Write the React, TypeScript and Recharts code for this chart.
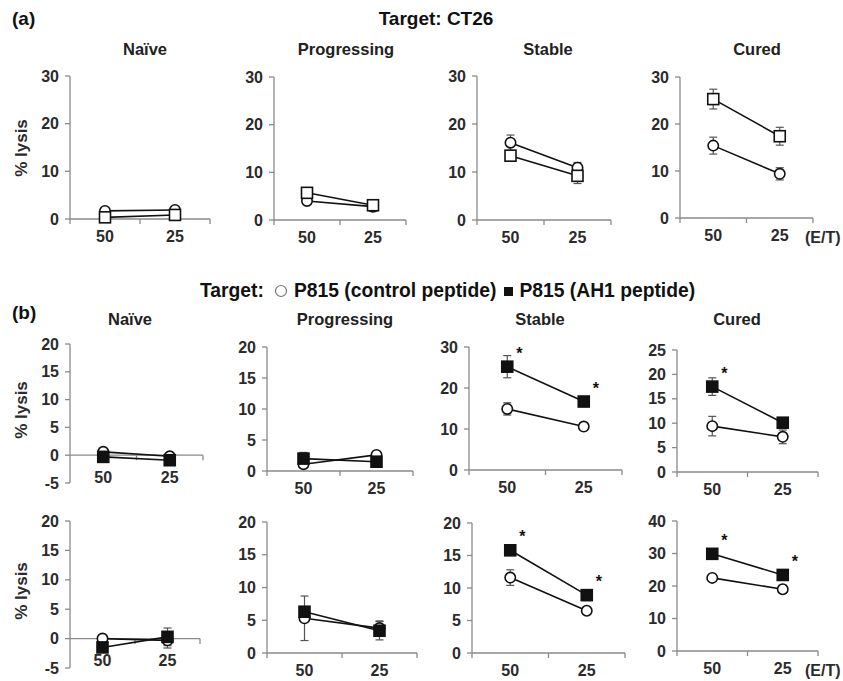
import React from "react";
import {
  ErrorBar,
  LabelList,
  Line,
  LineChart,
  ReferenceDot,
  ReferenceLine,
  XAxis,
  YAxis,
} from "recharts";

const FONT = '"Liberation Sans", Arial, sans-serif';
const INK = "#111";
const AXIS = "#8a8a8a";
const ERR = "#555";
const LABEL = "#2b2b2b";

const ET_RATIOS = ["50", "25"];
const GROUPS = ["Naïve", "Progressing", "Stable", "Cured"];

const TICKS_0_30 = [0, 10, 20, 30];
const TICKS_M5_20 = [-5, 0, 5, 10, 15, 20];
const TICKS_0_20 = [0, 5, 10, 15, 20];
const TICKS_0_25 = [0, 5, 10, 15, 20, 25];
const TICKS_0_40 = [0, 10, 20, 30, 40];

// (a) target CT26, open circles / open squares
const CT26_NAIVE_CIRCLE = [1.7, 1.9];
const CT26_NAIVE_CIRCLE_SD = [0.3, 0.3];
const CT26_NAIVE_SQUARE = [0.35, 0.85];
const CT26_NAIVE_SQUARE_SD = [0.2, 0.3];
const CT26_PROG_CIRCLE = [4.0, 2.8];
const CT26_PROG_CIRCLE_SD = [0.3, 1.0];
const CT26_PROG_SQUARE = [5.7, 3.1];
const CT26_PROG_SQUARE_SD = [0.5, 0.5];
const CT26_STABLE_CIRCLE = [16.1, 10.9];
const CT26_STABLE_CIRCLE_SD = [1.6, 1.1];
const CT26_STABLE_SQUARE = [13.4, 9.2];
const CT26_STABLE_SQUARE_SD = [0.6, 1.6];
const CT26_CURED_CIRCLE = [15.4, 9.4];
const CT26_CURED_CIRCLE_SD = [1.8, 1.3];
const CT26_CURED_SQUARE = [25.3, 17.4];
const CT26_CURED_SQUARE_SD = [2.1, 1.9];

// (b) target P815, first experiment (circle = control peptide, square = AH1)
const P1_NAIVE_CIRCLE = [0.6, -0.2];
const P1_NAIVE_CIRCLE_SD = [0.2, 0.2];
const P1_NAIVE_SQUARE = [-0.3, -0.9];
const P1_NAIVE_SQUARE_SD = [0.2, 0.2];
const P1_PROG_CIRCLE = [1.1, 2.6];
const P1_PROG_CIRCLE_SD = [0.3, 0.3];
const P1_PROG_SQUARE = [2.0, 1.5];
const P1_PROG_SQUARE_SD = [1.0, 0.4];
const P1_STABLE_CIRCLE = [14.9, 10.6];
const P1_STABLE_CIRCLE_SD = [1.5, 0.9];
const P1_STABLE_SQUARE = [25.2, 16.7];
const P1_STABLE_SQUARE_SD = [2.7, 0.6];
const P1_STABLE_SIG = [true, true];
const P1_CURED_CIRCLE = [9.4, 7.2];
const P1_CURED_CIRCLE_SD = [2.0, 1.4];
const P1_CURED_SQUARE = [17.5, 10.1];
const P1_CURED_SQUARE_SD = [1.8, 1.0];
const P1_CURED_SIG = [true, false];

// (b) target P815, second experiment
const P2_NAIVE_CIRCLE = [0.0, -0.3];
const P2_NAIVE_CIRCLE_SD = [0.2, 1.3];
const P2_NAIVE_SQUARE = [-1.5, 0.3];
const P2_NAIVE_SQUARE_SD = [0.3, 1.5];
const P2_PROG_CIRCLE = [5.3, 3.8];
const P2_PROG_CIRCLE_SD = [3.4, 1.1];
const P2_PROG_SQUARE = [6.3, 3.4];
const P2_PROG_SQUARE_SD = [0.6, 1.4];
const P2_STABLE_CIRCLE = [11.6, 6.5];
const P2_STABLE_CIRCLE_SD = [1.2, 0.4];
const P2_STABLE_SQUARE = [15.8, 8.9];
const P2_STABLE_SQUARE_SD = [0.8, 0.5];
const P2_STABLE_SIG = [true, true];
const P2_CURED_CIRCLE = [22.5, 19.0];
const P2_CURED_CIRCLE_SD = [1.0, 1.2];
const P2_CURED_SQUARE = [29.9, 23.4];
const P2_CURED_SQUARE_SD = [0.8, 0.8];
const P2_CURED_SIG = [true, true];

type Panel = {
  title?: string;
  titleX?: number;
  titleY?: number;
  circle: number[];
  circleSd: number[];
  square: number[];
  squareSd: number[];
  filled: boolean;
  sig?: boolean[];
  ticks: number[];
  box: number[]; // plot area: left, top, right, bottom
  zeroAxis?: boolean;
};

const PANELS: Panel[] = [
  { title: GROUPS[0], titleX: 145, titleY: 50, circle: CT26_NAIVE_CIRCLE, circleSd: CT26_NAIVE_CIRCLE_SD, square: CT26_NAIVE_SQUARE, squareSd: CT26_NAIVE_SQUARE_SD, filled: false, ticks: TICKS_0_30, box: [70, 76, 210, 219] },
  { title: GROUPS[1], titleX: 346, titleY: 50, circle: CT26_PROG_CIRCLE, circleSd: CT26_PROG_CIRCLE_SD, square: CT26_PROG_SQUARE, squareSd: CT26_PROG_SQUARE_SD, filled: false, ticks: TICKS_0_30, box: [274, 77, 406, 220] },
  { title: GROUPS[2], titleX: 548, titleY: 50, circle: CT26_STABLE_CIRCLE, circleSd: CT26_STABLE_CIRCLE_SD, square: CT26_STABLE_SQUARE, squareSd: CT26_STABLE_SQUARE_SD, filled: false, ticks: TICKS_0_30, box: [477, 76, 611, 220] },
  { title: GROUPS[3], titleX: 757, titleY: 50, circle: CT26_CURED_CIRCLE, circleSd: CT26_CURED_CIRCLE_SD, square: CT26_CURED_SQUARE, squareSd: CT26_CURED_SQUARE_SD, filled: false, ticks: TICKS_0_30, box: [680, 77, 813, 218] },

  { title: GROUPS[0], titleX: 130, titleY: 320, circle: P1_NAIVE_CIRCLE, circleSd: P1_NAIVE_CIRCLE_SD, square: P1_NAIVE_SQUARE, squareSd: P1_NAIVE_SQUARE_SD, filled: true, ticks: TICKS_M5_20, box: [70, 344, 203, 483], zeroAxis: true },
  { title: GROUPS[1], titleX: 345, titleY: 320, circle: P1_PROG_CIRCLE, circleSd: P1_PROG_CIRCLE_SD, square: P1_PROG_SQUARE, squareSd: P1_PROG_SQUARE_SD, filled: true, ticks: TICKS_0_20, box: [267, 347, 413, 471] },
  { title: GROUPS[2], titleX: 540, titleY: 320, circle: P1_STABLE_CIRCLE, circleSd: P1_STABLE_CIRCLE_SD, square: P1_STABLE_SQUARE, squareSd: P1_STABLE_SQUARE_SD, filled: true, sig: P1_STABLE_SIG, ticks: TICKS_0_30, box: [469, 347, 622, 470] },
  { title: GROUPS[3], titleX: 737, titleY: 320, circle: P1_CURED_CIRCLE, circleSd: P1_CURED_CIRCLE_SD, square: P1_CURED_SQUARE, squareSd: P1_CURED_SQUARE_SD, filled: true, sig: P1_CURED_SIG, ticks: TICKS_0_25, box: [677, 350, 818, 472] },

  { circle: P2_NAIVE_CIRCLE, circleSd: P2_NAIVE_CIRCLE_SD, square: P2_NAIVE_SQUARE, squareSd: P2_NAIVE_SQUARE_SD, filled: true, ticks: TICKS_M5_20, box: [70, 521, 200, 668], zeroAxis: true },
  { circle: P2_PROG_CIRCLE, circleSd: P2_PROG_CIRCLE_SD, square: P2_PROG_SQUARE, squareSd: P2_PROG_SQUARE_SD, filled: true, ticks: TICKS_0_20, box: [267, 522, 417, 653] },
  { circle: P2_STABLE_CIRCLE, circleSd: P2_STABLE_CIRCLE_SD, square: P2_STABLE_SQUARE, squareSd: P2_STABLE_SQUARE_SD, filled: true, sig: P2_STABLE_SIG, ticks: TICKS_0_20, box: [472, 523, 625, 653] },
  { circle: P2_CURED_CIRCLE, circleSd: P2_CURED_CIRCLE_SD, square: P2_CURED_SQUARE, squareSd: P2_CURED_SQUARE_SD, filled: true, sig: P2_CURED_SIG, ticks: TICKS_0_40, box: [677, 521, 818, 651] },
];

const textStyle = { fill: LABEL, fontSize: 16, fontWeight: 700, fontFamily: FONT };

// integer ticks are the band edges (tick marks), half ticks carry the E/T label
const CategoryTick = (props: any) => {
  const { x, y, payload } = props;
  const v = payload.value;
  if (Number.isInteger(v)) {
    return <line x1={x} y1={y} x2={x} y2={y + 5} stroke={AXIS} strokeWidth={1.3} />;
  }
  return (
    <text x={x} y={y + 17} dy="0.35em" textAnchor="middle" {...textStyle}>
      {ET_RATIOS[Math.floor(v)]}
    </text>
  );
};

const CircleDot = (props: any) => {
  if (props.cx == null || props.cy == null) return null;
  return <circle cx={props.cx} cy={props.cy} r={5.2} fill="#fff" stroke={INK} strokeWidth={1.6} />;
};

const SquareDot = (props: any) => {
  if (props.cx == null || props.cy == null) return null;
  return (
    <rect
      x={props.cx - 5.5}
      y={props.cy - 5.5}
      width={11}
      height={11}
      fill={props.filled ? INK : "#fff"}
      stroke={INK}
      strokeWidth={1.6}
    />
  );
};

const StarLabel = (props: any) => {
  const vb = props.viewBox || {};
  const x = vb.x ?? props.x;
  const y = vb.y ?? props.y;
  if (!props.value || x == null) return null;
  return (
    <text x={x + 12} y={y - 8} textAnchor="middle" fontSize={16} fontWeight={700} fill={INK} fontFamily={FONT}>
      {props.value}
    </text>
  );
};

function PanelChart({ p }: { p: Panel }) {
  const [l, t, r, b] = p.box;
  const yW = 50;
  const top = 14;
  const right = 16;
  const xH = p.zeroAxis ? 0 : 36;
  const bottom = p.zeroAxis ? 14 : 4;
  const data = ET_RATIOS.map((et, i) => ({
    x: i + 0.5,
    et,
    c: p.circle[i],
    cSd: p.circleSd[i],
    s: p.square[i],
    sSd: p.squareSd[i],
    star: p.sig && p.sig[i] ? "*" : undefined,
  }));
  const yMin = p.ticks[0];
  const yMax = p.ticks[p.ticks.length - 1];
  return (
    <div style={{ position: "absolute", left: l - yW, top: t - top }}>
      <LineChart
        width={r - l + yW + right}
        height={b - t + top + xH + bottom}
        data={data}
        margin={{ top, right, bottom, left: 0 }}
      >
        <XAxis
          type="number"
          dataKey="x"
          domain={[0, 2]}
          ticks={[0, 0.5, 1, 1.5, 2]}
          interval={0}
          hide={p.zeroAxis}
          height={xH}
          axisLine={{ stroke: AXIS, strokeWidth: 1.3 }}
          tickLine={false}
          tickSize={0}
          tickMargin={0}
          tick={<CategoryTick />}
        />
        <YAxis
          type="number"
          domain={[yMin, yMax]}
          ticks={p.ticks}
          interval={0}
          width={yW}
          axisLine={{ stroke: AXIS, strokeWidth: 1.3 }}
          tickLine={{ stroke: AXIS, strokeWidth: 1.3 }}
          tickSize={5}
          tickMargin={6}
          tick={textStyle}
        />
        {p.zeroAxis && <ReferenceLine y={0} stroke={AXIS} strokeWidth={1.3} />}
        {p.zeroAxis &&
          [1, 2].map((x) => (
            <ReferenceLine
              key={x}
              segment={[
                { x, y: 0 },
                { x, y: -0.9 },
              ]}
              stroke={AXIS}
              strokeWidth={1.3}
            />
          ))}
        {p.zeroAxis &&
          data.map((d) => (
            <ReferenceDot
              key={d.et}
              x={d.x}
              y={0}
              r={0}
              fill="none"
              stroke="none"
              label={{ value: d.et, position: "bottom", offset: 16, ...textStyle }}
            />
          ))}
        <Line
          dataKey="c"
          type="linear"
          stroke={INK}
          strokeWidth={1.6}
          dot={<CircleDot />}
          activeDot={false}
          isAnimationActive={false}
        >
          <ErrorBar dataKey="cSd" direction="y" width={4} stroke={ERR} strokeWidth={1.2} />
        </Line>
        <Line
          dataKey="s"
          type="linear"
          stroke={INK}
          strokeWidth={1.6}
          dot={<SquareDot filled={p.filled} />}
          activeDot={false}
          isAnimationActive={false}
        >
          <ErrorBar dataKey="sSd" direction="y" width={4} stroke={ERR} strokeWidth={1.2} />
          <LabelList dataKey="star" content={StarLabel} />
        </Line>
      </LineChart>
    </div>
  );
}

const abs = (left: number, top: number, extra: React.CSSProperties = {}): React.CSSProperties => ({
  position: "absolute",
  left,
  top,
  fontFamily: FONT,
  fontWeight: 700,
  whiteSpace: "nowrap",
  color: INK,
  ...extra,
});

function YLabel({ y }: { y: number }) {
  return (
    <div style={abs(22, y, { fontSize: 17, color: LABEL, transform: "translate(-50%, -50%) rotate(-90deg)" })}>
      % lysis
    </div>
  );
}

export default function App() {
  return (
    <div
      style={{
        position: "absolute",
        left: 0,
        top: 0,
        width: 843,
        height: 681,
        background: "#fff",
        overflow: "hidden",
      }}
    >
      <div style={abs(12, 8, { fontSize: 19 })}>(a)</div>
      <div style={abs(436, 8, { fontSize: 19, transform: "translateX(-50%)" })}>Target: CT26</div>
      <div style={abs(12, 302, { fontSize: 19 })}>(b)</div>
      <div style={abs(200, 280, { fontSize: 19.3, display: "flex", alignItems: "center" })}>
        <span>Target:</span>
        <svg width={26} height={14} style={{ marginLeft: 2 }}>
          <circle cx={15} cy={7} r={5.5} fill="#fff" stroke="#777" strokeWidth={1.2} />
        </svg>
        <span style={{ marginLeft: 2 }}>P815 (control peptide)</span>
        <svg width={18} height={14} style={{ marginLeft: 3 }}>
          <rect x={5} y={3} width={9} height={9} fill={INK} />
        </svg>
        <span style={{ marginLeft: 2 }}>P815 (AH1 peptide)</span>
      </div>

      <YLabel y={148} />
      <YLabel y={410} />
      <YLabel y={591} />

      {PANELS.map((p, i) =>
        p.title ? (
          <div
            key={`t${i}`}
            style={abs(p.titleX || 0, (p.titleY || 0) - 10, {
              fontSize: 16.5,
              color: "#222",
              transform: "translateX(-50%)",
            })}
          >
            {p.title}
          </div>
        ) : null
      )}

      {PANELS.map((p, i) => (
        <PanelChart key={i} p={p} />
      ))}

      <div style={abs(805, 229, { fontSize: 16, color: LABEL })}>(E/T)</div>
      <div style={abs(805, 662, { fontSize: 16, color: LABEL })}>(E/T)</div>
    </div>
  );
}
